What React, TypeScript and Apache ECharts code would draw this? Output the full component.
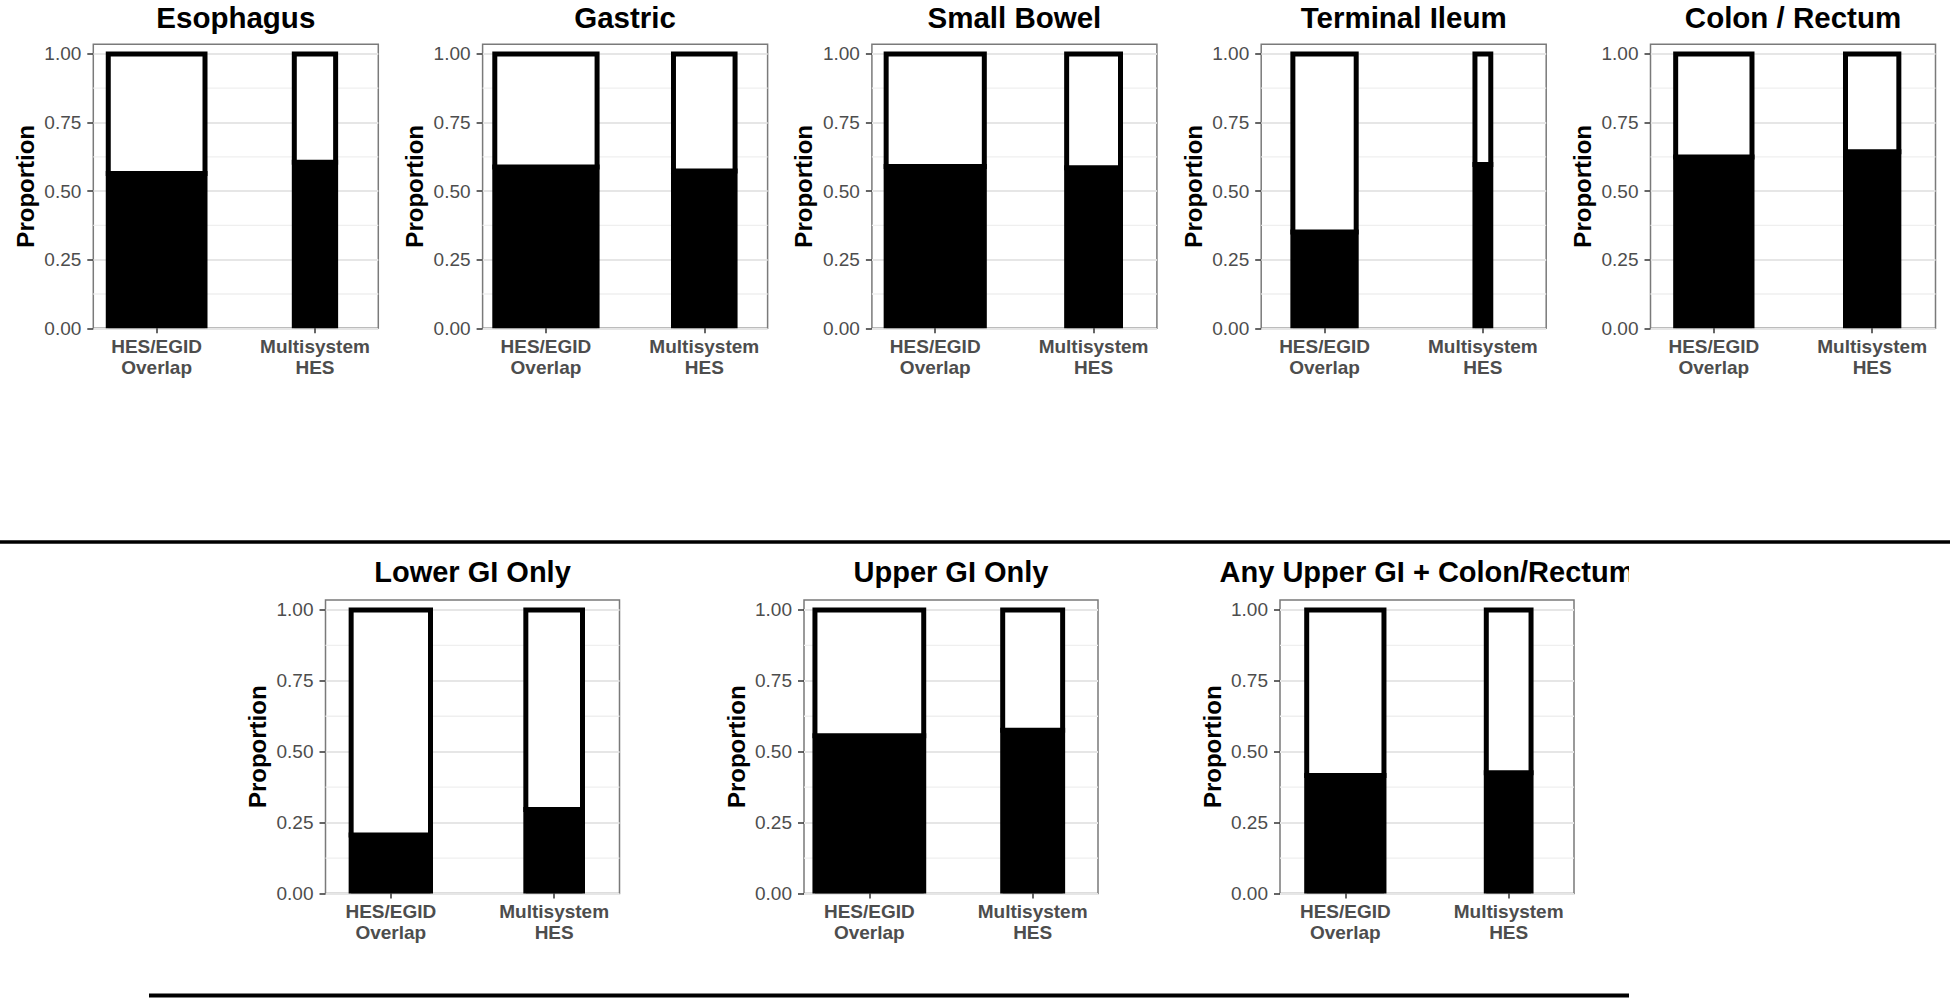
import React, { useEffect, useRef } from "react";
import * as echarts from "echarts";

// ---------- data ----------
const panelTitles = [
  "Esophagus",
  "Gastric",
  "Small Bowel",
  "Terminal Ileum",
  "Colon / Rectum",
  "Lower GI Only",
  "Upper GI Only",
  "Any Upper GI + Colon/Rectum",
];
const groupLabels = ["HES/EGID\nOverlap", "Multisystem\nHES"];
const groupPositions = [1, 2];
// proportion (black part) per panel
const hesEgidProportion = [0.564, 0.588, 0.59, 0.351, 0.624, 0.206, 0.556, 0.416];
const multisystemProportion = [0.605, 0.573, 0.585, 0.597, 0.643, 0.296, 0.576, 0.426];
// relative bar widths (variable width bars), in x-axis units
const hesEgidBarWidth = [0.611, 0.646, 0.62, 0.4, 0.482, 0.486, 0.666, 0.473];
const multisystemBarWidth = [0.261, 0.389, 0.34, 0.1, 0.337, 0.347, 0.367, 0.274];
const yTicks = [0, 0.25, 0.5, 0.75, 1];
const yMinorGrid = [0.125, 0.375, 0.625, 0.875];

const FONT = '"Liberation Sans", Arial, Helvetica, sans-serif';
const X_MIN = 0.6;
const X_MAX = 2.4;
const Y_MAX = 1.035;

export default function App() {
  const ref = useRef<HTMLDivElement>(null);

  useEffect(() => {
    const chart = echarts.init(ref.current as HTMLDivElement, null, { renderer: "svg" });

    const topLefts = [93.3, 482.6, 871.9, 1261.2, 1650.5];
    const bottomLefts = [325.5, 804, 1280];
    const layout: any[] = [
      ...topLefts.map((l) => ({ left: l, top: 44.3, w: 285, h: 284, xMargin: 8, titleY: 17, titleSize: 29.5 })),
      ...bottomLefts.map((l) => ({ left: l, top: 600, w: 294, h: 293.5, xMargin: 7, titleY: 571.7, titleSize: 29 })),
    ];

    const grids: any[] = [];
    const xAxes: any[] = [];
    const yAxes: any[] = [];
    const series: any[] = [];
    const graphics: any[] = [];

    panelTitles.forEach((title, i) => {
      const L = layout[i];
      grids.push({
        left: L.left,
        top: L.top,
        width: L.w,
        height: L.h,
        show: true,
        borderColor: "#7a7a7a",
        borderWidth: 1.5,
        backgroundColor: "#fff",
        outerBoundsMode: "none",
      });
      xAxes.push({
        gridIndex: i,
        type: "value",
        min: X_MIN,
        max: X_MAX,
        axisLine: { show: false },
        splitLine: { show: false },
        axisTick: {
          show: true,
          customValues: groupPositions,
          length: 5,
          lineStyle: { color: "#333", width: 1.5 },
        },
        axisLabel: {
          customValues: groupPositions,
          formatter: (v: number) => {
            const k = groupPositions.indexOf(v);
            return k >= 0 ? groupLabels[k] : "";
          },
          fontFamily: FONT,
          fontSize: 19,
          fontWeight: "bold",
          color: "#4d4d4d",
          lineHeight: 21,
          margin: L.xMargin,
        },
      });
      yAxes.push({
        gridIndex: i,
        type: "value",
        min: 0,
        max: Y_MAX,
        interval: 0.25,
        name: "Proportion",
        nameLocation: "middle",
        nameRotate: 90,
        nameGap: 56,
        nameTextStyle: { fontFamily: FONT, fontSize: 24, fontWeight: "bold", color: "#000" },
        axisLine: { show: false },
        axisTick: {
          show: true,
          customValues: yTicks,
          length: 6,
          lineStyle: { color: "#333", width: 1.5 },
        },
        axisLabel: {
          customValues: yTicks,
          formatter: (v: number) =>
            yTicks.some((t) => Math.abs(t - v) < 1e-9) ? v.toFixed(2) : "",
          fontFamily: FONT,
          fontSize: 19,
          color: "#4d4d4d",
          margin: 12,
        },
        splitLine: { show: true, lineStyle: { color: "#e6e6e6", width: 2 } },
      });

      // minor grid lines
      series.push({
        type: "custom",
        xAxisIndex: i,
        yAxisIndex: i,
        z: 1,
        silent: true,
        data: yMinorGrid.map((v) => [groupPositions[0], v]),
        encode: { x: 0, y: 1 },
        renderItem: (_p: any, api: any) => {
          const y = api.value(1);
          const a = api.coord([X_MIN, y]);
          const b = api.coord([X_MAX, y]);
          return {
            type: "line",
            shape: { x1: a[0], y1: a[1], x2: b[0], y2: b[1] },
            style: { stroke: "#efefef", lineWidth: 1.3 },
          };
        },
      });

      // stacked variable-width bars
      const hp = hesEgidProportion[i];
      const mp = multisystemProportion[i];
      const hw = hesEgidBarWidth[i];
      const mw = multisystemBarWidth[i];
      series.push({
        type: "custom",
        xAxisIndex: i,
        yAxisIndex: i,
        z: 3,
        clip: true,
        silent: true,
        data: [
          [groupPositions[0], 0, hp, hw, 0],
          [groupPositions[0], hp, 1, hw, 1],
          [groupPositions[1], 0, mp, mw, 0],
          [groupPositions[1], mp, 1, mw, 1],
        ],
        encode: { x: 0, y: [1, 2] },
        renderItem: (_p: any, api: any) => {
          const x = api.value(0);
          const y0 = api.value(1);
          const y1 = api.value(2);
          const w = api.value(3);
          const kind = api.value(4);
          const p0 = api.coord([x - w / 2, y1]);
          const p1 = api.coord([x + w / 2, y0]);
          return {
            type: "rect",
            shape: { x: p0[0], y: p0[1], width: p1[0] - p0[0], height: p1[1] - p0[1] },
            style: { fill: kind === 0 ? "#000" : "#fff", stroke: "#000", lineWidth: 5 },
          };
        },
      });

      graphics.push({
        type: "text",
        x: L.left + L.w / 2,
        y: L.titleY,
        z: 10,
        style: {
          text: title,
          fontFamily: FONT,
          fontSize: L.titleSize,
          fontWeight: "bold",
          fill: "#000",
          align: "center",
          verticalAlign: "middle",
        },
      });
    });

    // clip of the last (cut-off) title, as in the source figure
    graphics.push({
      type: "rect",
      z: 20,
      shape: { x: 1629, y: 550, width: 321, height: 48 },
      style: { fill: "#fff" },
    });
    // separator lines
    graphics.push({
      type: "line",
      z: 20,
      shape: { x1: 0, y1: 542, x2: 1950, y2: 542 },
      style: { stroke: "#000", lineWidth: 3.5 },
    });
    graphics.push({
      type: "line",
      z: 20,
      shape: { x1: 149, y1: 995.5, x2: 1629, y2: 995.5 },
      style: { stroke: "#000", lineWidth: 4 },
    });

    chart.setOption({
      animation: false,
      backgroundColor: "#fff",
      grid: grids,
      xAxis: xAxes,
      yAxis: yAxes,
      series,
      graphic: graphics,
    });

    return () => chart.dispose();
  }, []);

  return (
    <div
      ref={ref}
      style={{ position: "absolute", left: 0, top: 0, width: 1950, height: 998, background: "#fff" }}
    />
  );
}
